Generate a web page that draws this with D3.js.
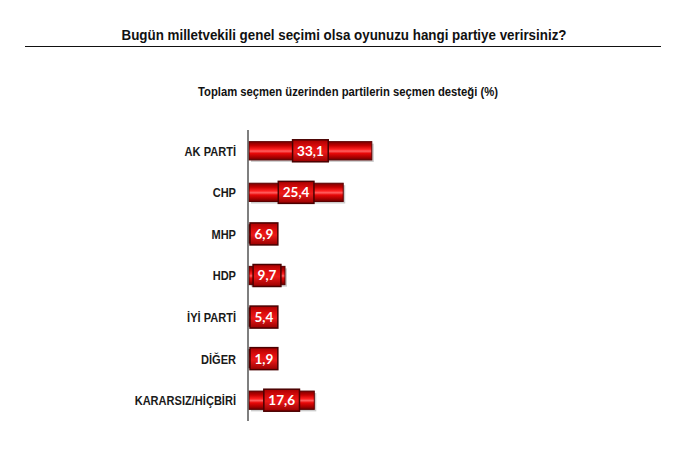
<!DOCTYPE html>
<html>
<head>
<meta charset="utf-8">
<script src="https://cdn.jsdelivr.net/npm/d3@7"></script>
<style>
  body { margin: 0; background: #fff; }
  svg { display: block; }
</style>
</head>
<body>
<svg id="chart"></svg>
<script>
'use strict';

// chart data
const parties = ['AK PARTİ', 'CHP', 'MHP', 'HDP', 'İYİ PARTİ', 'DİĞER', 'KARARSIZ/HİÇBİRİ'];
const support = [33.1, 25.4, 6.9, 9.7, 5.4, 1.9, 17.6];

const title = 'Bugün milletvekili genel seçimi olsa oyunuzu hangi partiye verirsiniz?';
const subtitle = 'Toplam seçmen üzerinden partilerin seçmen desteği (%)';

const width = 682;
const height = 456;
const axisX = 248;
const font = 'Liberation Sans Narrow, Liberation Sans, Arial, sans-serif';

const svg = d3.select('#chart')
    .attr('width', width)
    .attr('height', height);

const defs = svg.append('defs');

// cylinder look of the bars
const barGrad = defs.append('linearGradient')
    .attr('id', 'barGrad')
    .attr('x1', 0).attr('y1', 0).attr('x2', 0).attr('y2', 1);
[['0%', '#7a0000'], ['22%', '#c40000'], ['42%', '#ff2020'], ['52%', '#ff6060'],
 ['64%', '#e80808'], ['85%', '#a80000'], ['100%', '#6a0000']]
  .forEach((s) => barGrad.append('stop').attr('offset', s[0]).attr('stop-color', s[1]));

const boxGrad = defs.append('linearGradient')
    .attr('id', 'boxGrad')
    .attr('x1', 0).attr('y1', 0).attr('x2', 0).attr('y2', 1);
[['0%', '#a80000'], ['30%', '#dc0c0c'], ['55%', '#ec1a1a'], ['100%', '#980000']]
  .forEach((s) => boxGrad.append('stop').attr('offset', s[0]).attr('stop-color', s[1]));

// titles
svg.append('text')
    .attr('x', 344)
    .attr('y', 40)
    .attr('text-anchor', 'middle')
    .attr('font-family', font)
    .attr('font-weight', 'bold')
    .attr('font-size', '15.5px')
    .attr('fill', '#111')
    .attr('textLength', 445)
    .attr('lengthAdjust', 'spacingAndGlyphs')
    .text(title);

svg.append('line')
    .attr('x1', 25).attr('x2', 661)
    .attr('y1', 46.5).attr('y2', 46.5)
    .attr('stroke', '#111')
    .attr('stroke-width', 1.2);

svg.append('text')
    .attr('x', 348)
    .attr('y', 96)
    .attr('text-anchor', 'middle')
    .attr('font-family', font)
    .attr('font-weight', 'bold')
    .attr('font-size', '12px')
    .attr('fill', '#111')
    .attr('textLength', 300)
    .attr('lengthAdjust', 'spacingAndGlyphs')
    .text(subtitle);

// scales
const x = d3.scaleLinear()
    .domain([0, 100])
    .range([axisX + 1, axisX + 1 + 371]);

const y = d3.scaleBand()
    .domain(parties)
    .range([130, 421])
    .paddingInner(0.56)
    .paddingOuter(0.28);

const rows = parties.map((p, i) => ({ party: p, value: support[i] }));

// category labels (narrowed like the original condensed face)
svg.append('g')
    .selectAll('text')
    .data(rows)
    .enter().append('text')
    .attr('transform', (d) => 'translate(236,' + (y(d.party) + y.bandwidth() / 2) + ') scale(0.82,1)')
    .attr('dy', '0.36em')
    .attr('text-anchor', 'end')
    .attr('font-family', font)
    .attr('font-weight', 'bold')
    .attr('font-size', '13.5px')
    .attr('fill', '#1a1a1a')
    .text((d) => d.party);

// bar shadows
svg.append('g')
    .selectAll('rect')
    .data(rows)
    .enter().append('rect')
    .attr('x', x(0) + 2)
    .attr('y', (d) => y(d.party) + 2)
    .attr('width', (d) => x(d.value) - x(0))
    .attr('height', y.bandwidth())
    .attr('fill', '#999')
    .attr('opacity', 0.5);

// bars
svg.append('g')
    .selectAll('rect')
    .data(rows)
    .enter().append('rect')
    .attr('x', x(0))
    .attr('y', (d) => y(d.party))
    .attr('width', (d) => x(d.value) - x(0))
    .attr('height', y.bandwidth())
    .attr('fill', 'url(#barGrad)')
    .attr('stroke', '#5a0000')
    .attr('stroke-width', 1);

// axis line
svg.append('line')
    .attr('x1', axisX).attr('x2', axisX)
    .attr('y1', 130).attr('y2', 421)
    .attr('stroke', '#555')
    .attr('stroke-width', 1.5);

// value boxes
const labels = svg.append('g')
    .selectAll('g')
    .data(rows)
    .enter().append('g');

labels.append('text')
    .attr('y', (d) => y(d.party) + y.bandwidth() / 2)
    .attr('dy', '0.36em')
    .attr('text-anchor', 'middle')
    .attr('font-family', 'Lato, Open Sans, sans-serif')
    .attr('font-weight', 'bold')
    .attr('font-size', '13.5px')
    .attr('fill', '#fff')
    .text((d) => d.value.toFixed(1).replace('.', ','));

labels.each(function(d) {
  const g = d3.select(this);
  const t = g.select('text');
  const w = t.node().getComputedTextLength() + 9;
  const cx = Math.max(axisX + 2 + w / 2, (x(0) + x(d.value)) / 2);
  const cy = y(d.party) + y.bandwidth() / 2;
  g.insert('rect', 'text')
      .attr('x', cx - w / 2)
      .attr('y', cy - 11)
      .attr('width', w)
      .attr('height', 22)
      .attr('fill', 'url(#boxGrad)')
      .attr('stroke', '#4a0000')
      .attr('stroke-width', 1.5);
  t.attr('x', cx);
});
</script>
</body>
</html>
